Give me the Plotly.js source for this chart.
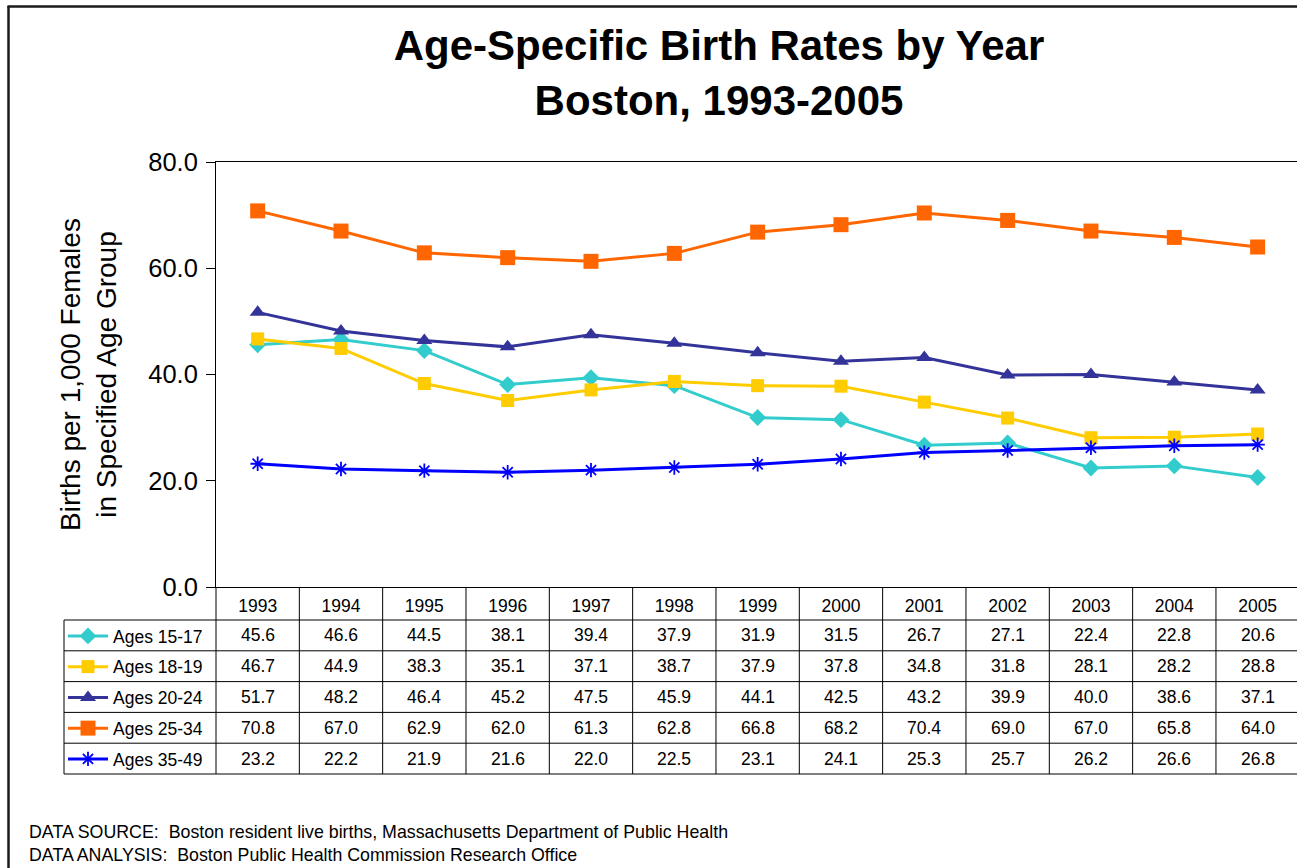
<!DOCTYPE html>
<html>
<head>
<meta charset="utf-8">
<script src="https://cdn.plot.ly/plotly-3.0.1.min.js"></script>
<style>html,body{margin:0;padding:0;background:#fff;}#chart{width:1297px;height:868px;}</style>
</head>
<body>
<div id="chart"></div>
<script>
const years = ['1993','1994','1995','1996','1997','1998','1999','2000','2001','2002','2003','2004','2005'];
const seriesNames = ['Ages 15-17','Ages 18-19','Ages 20-24','Ages 25-34','Ages 35-49'];
const ages15_17 = [45.6,46.6,44.5,38.1,39.4,37.9,31.9,31.5,26.7,27.1,22.4,22.8,20.6];
const ages18_19 = [46.7,44.9,38.3,35.1,37.1,38.7,37.9,37.8,34.8,31.8,28.1,28.2,28.8];
const ages20_24 = [51.7,48.2,46.4,45.2,47.5,45.9,44.1,42.5,43.2,39.9,40.0,38.6,37.1];
const ages25_34 = [70.8,67.0,62.9,62.0,61.3,62.8,66.8,68.2,70.4,69.0,67.0,65.8,64.0];
const ages35_49 = [23.2,22.2,21.9,21.6,22.0,22.5,23.1,24.1,25.3,25.7,26.2,26.6,26.8];
const seriesValues = [ages15_17, ages18_19, ages20_24, ages25_34, ages35_49];
const titleText = 'Age-Specific Birth Rates by Year<br>Boston, 1993-2005';
const yTitleText = 'Births per 1,000 Females<br>in Specified Age Group';
const footnotes = ['DATA SOURCE:  Boston resident live births, Massachusetts Department of Public Health',
                   'DATA ANALYSIS:  Boston Public Health Commission Research Office'];

const colors = ['#33CCCC','#FFCC00','#333399','#FF6600','#0000FF'];
const symbols = ['diamond','square','triangle-up','square','asterisk-open'];
const sizes = [13,13,14,15,12];

const W = 1297, H = 868;
const mL = 216, mR = 0, mT = 162, mB = 281;
const pw = W - mL - mR, ph = H - mT - mB;
const px2x = p => (p - mL) / pw;
const px2y = p => (H - mB - p) / ph;
const FONT = 'Liberation Sans, Arial, sans-serif';

const traces = seriesValues.map((vals, i) => ({
  type: 'scatter', mode: 'lines+markers', name: seriesNames[i],
  x: years.map((_, j) => j), y: vals,
  line: {color: colors[i], width: 3},
  marker: {color: colors[i], symbol: symbols[i], size: sizes[i],
           line: {color: colors[i], width: i === 4 ? 1.8 : 0}},
  legendgroup: 'g' + i,
  cliponaxis: false
}));

const rowTop = 620, rowH = 30.8, tableLeft = 64, tableBottom = rowTop + rowH * 5;
const shapes = [];
const lineStyle = {color: '#000', width: 1};
for (let j = 1; j < years.length; j++) {
  shapes.push({type: 'line', xref: 'x', yref: 'paper', x0: j - 0.5, x1: j - 0.5,
               y0: 0, y1: px2y(tableBottom), line: lineStyle});
}
shapes.push({type: 'line', xref: 'paper', yref: 'paper', x0: 0, x1: 0, y0: 0, y1: px2y(tableBottom), line: lineStyle});
shapes.push({type: 'line', xref: 'paper', yref: 'paper', x0: px2x(tableLeft), x1: px2x(tableLeft),
             y0: px2y(rowTop), y1: px2y(tableBottom), line: lineStyle});
for (let r = 0; r <= seriesNames.length; r++) {
  const yy = px2y(rowTop + rowH * r);
  shapes.push({type: 'line', xref: 'paper', yref: 'paper', x0: px2x(tableLeft), x1: 1, y0: yy, y1: yy, line: lineStyle});
}
shapes.push({type: 'line', xref: 'paper', yref: 'paper', x0: px2x(8.5), x1: px2x(8.5), y0: px2y(6), y1: px2y(H + 2),
             line: {color: '#1a1a1a', width: 2.5}});
shapes.push({type: 'line', xref: 'paper', yref: 'paper', x0: px2x(7.5), x1: px2x(W + 2), y0: px2y(6.5), y1: px2y(6.5),
             line: {color: '#1a1a1a', width: 2.5}});

const annotations = [];
seriesValues.forEach((vals, i) => {
  vals.forEach((v, j) => {
    annotations.push({xref: 'x', yref: 'paper', x: j, y: px2y(rowTop + rowH * (i + 0.5)),
      text: v.toFixed(1), showarrow: false, xanchor: 'center', yanchor: 'middle',
      font: {family: FONT, size: 17.5, color: '#000'}});
  });
});
footnotes.forEach((t, k) => {
  annotations.push({xref: 'paper', yref: 'paper', x: px2x(27), y: px2y(832 + 23 * k), text: t,
    showarrow: false, xanchor: 'left', yanchor: 'middle',
    font: {family: FONT, size: 17.8, color: '#000'}});
});

const layout = {
  width: W, height: H,
  margin: {l: mL, r: mR, t: mT, b: mB, pad: 0},
  paper_bgcolor: '#fff', plot_bgcolor: '#fff',
  font: {family: FONT, color: '#000'},
  title: {text: titleText, xref: 'container', yref: 'container', x: 719 / W, xanchor: 'center',
          y: 1 - 60 / H, yanchor: 'top',
          font: {family: FONT, size: 42, weight: 'bold', color: '#000'}},
  xaxis: {type: 'linear', range: [-0.5, -0.5 + pw / 83.33], tickmode: 'array',
          tickvals: years.map((_, j) => j), ticktext: years,
          ticks: '', showgrid: false, zeroline: false, showline: true, mirror: true,
          linecolor: '#000', linewidth: 1, tickfont: {size: 17.5, color: '#000'}, ticklabelstandoff: 3},
  yaxis: {range: [0, 80], dtick: 20, tick0: 0, tickformat: '.1f', ticks: 'outside', ticklen: 9,
          tickcolor: '#000', showgrid: false, zeroline: false, showline: true, linecolor: '#000', linewidth: 1,
          tickfont: {size: 25.5, color: '#000'}, ticklabelstandoff: 3,
          title: {text: yTitleText, font: {size: 28, color: '#000'}, standoff: 23}},
  showlegend: true,
  legend: {x: px2x(63), xanchor: 'left', y: px2y(rowTop - 2), yanchor: 'top', bgcolor: 'rgba(0,0,0,0)',
           font: {size: 17.5, color: '#000'}, tracegroupgap: 5, traceorder: 'grouped', itemclick: false,
           itemwidth: 40},
  shapes: shapes, annotations: annotations
};

Plotly.newPlot('chart', traces, layout, {displayModeBar: false, staticPlot: true});
</script>
</body>
</html>
